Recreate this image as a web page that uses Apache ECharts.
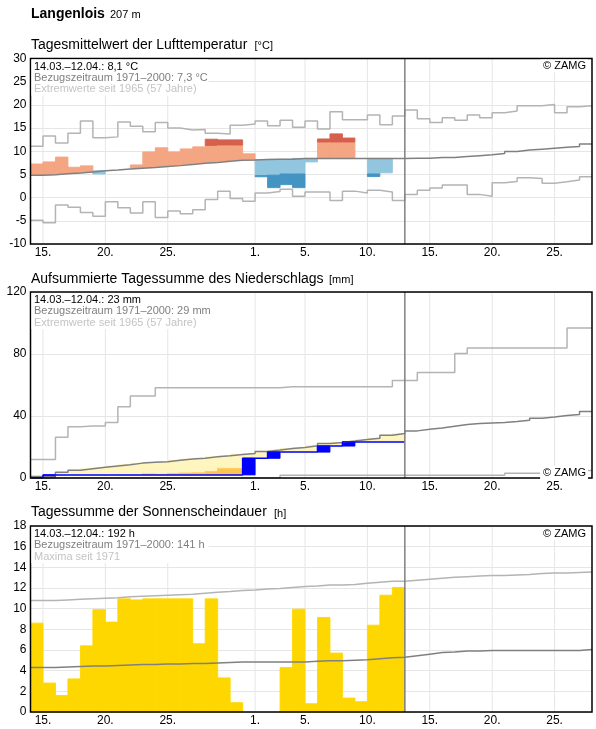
<!DOCTYPE html>
<html>
<head>
<meta charset="utf-8">
<script src="https://cdn.jsdelivr.net/npm/echarts@6/dist/echarts.min.js"></script>
<style>
html,body{margin:0;padding:0;background:#fff;}
#chart{width:596px;height:729px;}
</style>
</head>
<body>
<div id="chart"></div>
<script>
// ---- x axis: day index 0 = 14.03., 45 days shown, data up to 12.04. ----
const tickPos = [1, 6, 11, 18, 22, 27, 32, 37, 42];
const tickLabels = ['15.', '20.', '25.', '1.', '5.', '10.', '15.', '20.', '25.'];
const todayPos = [30];

// ---- Temperature (°C) ----
const tMean = [4.8, 4.95, 5.15, 5.3, 5.55, 5.8, 5.95, 6.15, 6.35, 6.5,
  6.7, 6.9, 7.15, 7.4, 7.6, 7.85, 8.05, 8.1, 8.2, 8.25,
  8.25, 8.45, 8.45, 8.45, 8.45, 8.45, 8.45, 8.45, 8.45, 8.45,
  8.5, 8.5, 8.65, 8.65, 8.85, 9.05, 9.25, 9.5, 9.95, 10.25,
  10.45, 10.65, 10.85, 11.05, 11.55];
const tMax = [11.1, 13.3, 11.8, 13.9, 16.5, 12.9, 13.1, 16.3, 15.4, 14.2,
  16.2, 15.0, 14.6, 14.7, 13.9, 13.7, 15.6, 15.9, 16.5, 15.5,
  16.7, 15.2, 16.5, 14.8, 18.5, 16.8, 16.8, 17.8, 15.7, 17.6,
  18.9, 17.0, 16.2, 17.2, 16.7, 17.8, 17.2, 18.3, 18.7, 19.8,
  19.8, 20.1, 18.3, 19.6, 19.8];
const tMin = [-4.9, -5.4, -1.6, -2.1, -3.2, -4.0, -0.9, -2.2, -3.3, -0.9,
  -4.3, -2.9, -3.5, -2.6, -0.4, 1.4, -0.2, -0.8, 1.0, 1.3,
  1.8, 0.3, 1.2, 1.2, -0.6, 1.4, 1.0, 1.6, 1.2, -0.6,
  0.7, 1.6, 2.1, 2.7, 2.7, 0.7, 0.3, 3.2, 3.5, 4.3,
  4.1, 3.1, 3.4, 3.8, 4.5];
const tDay = [7.25, 7.7, 8.75, 6.55, 6.85, 5.1, 5.95, 6.15, 7.05, 9.85,
  10.75, 9.85, 10.5, 10.95, 12.6, 12.45, 12.45, 9.45, 4.5, 2.15,
  2.8, 2.15, 7.7, 12.65, 13.75, 12.85, 8.45, 4.55, 5.35, 8.45];
const tLimit = [null, null, null, null, null, null, null, null, null, null,
  null, null, null, null, 11.25, 11.35, 11.35, null, 4.75, 4.85,
  5.1, 5.1, null, 12.0, 12.0, 12.0, null, 5.1, null, null];

// ---- Precipitation, cumulative (mm) ----
const pMean = [1.0, 1.3, 3.7, 5.0, 6.0, 6.9, 7.8, 8.6, 9.6, 10.1,
  10.5, 11.4, 12.2, 12.8, 13.7, 14.3, 15.2, 15.8, 17.1, 18.0,
  19.1, 19.7, 20.8, 22.3, 22.9, 23.8, 24.8, 25.7, 27.6, 28.7,
  30.4, 31.5, 32.3, 33.4, 34.5, 35.1, 35.5, 35.8, 36.4, 37.3,
  38.6, 39.4, 40.3, 41.0, 42.9];
const pMax = [12.0, 12.0, 26.3, 33.0, 33.6, 33.6, 35.8, 46.0, 52.9, 52.9,
  58.2, 58.2, 58.2, 58.2, 58.2, 58.2, 58.2, 58.2, 58.2, 58.2,
  58.9, 58.9, 58.9, 58.9, 58.9, 58.9, 58.9, 58.9, 58.9, 62.9,
  62.9, 68.1, 68.1, 68.1, 80.3, 83.9, 83.9, 83.9, 83.9, 83.9,
  83.9, 83.9, 83.9, 96.8, 96.8];
const pMin = [0, 0, 0, 0, 0, 0, 0, 0, 0, 0,
  0, 0, 0, 0, 0, 0, 0, 0, 0, 0,
  1.7, 1.7, 1.7, 1.7, 1.7, 1.7, 1.7, 1.7, 1.7, 1.7,
  1.7, 1.7, 1.7, 1.7, 1.7, 1.7, 1.7, 1.7, 3.0, 3.0,
  3.0, 4.9, 4.9, 4.9, 4.9];
const pObs = [0, 2.0, 2.0, 2.0, 2.0, 2.0, 2.0, 2.0, 2.0, 2.0,
  2.0, 2.0, 2.0, 2.0, 2.0, 2.0, 2.0, 12.7, 12.7, 16.7,
  16.7, 16.7, 16.7, 20.6, 20.6, 23.3, 23.3, 23.3, 23.3, 23.3];
const pLow = [null, null, null, null, null, null, null, 2.4, 2.4, 3.2,
  3.0, 3.4, 3.8, 3.9, 4.7, 6.6, 6.6, null, null, null,
  null, null, null, null, null, null, null, null, null, null];

// ---- Sunshine duration (h) ----
const sDay = [8.6, 2.8, 1.6, 3.2, 6.4, 9.9, 8.7, 10.95, 10.85, 10.95,
  10.95, 10.95, 10.95, 6.6, 10.95, 3.3, 0.9, 0, 0, 0,
  4.3, 9.95, 0.8, 9.15, 5.7, 1.35, 1.0, 8.4, 11.3, 12.05];
const sMean = [4.3, 4.3, 4.35, 4.4, 4.45, 4.45, 4.5, 4.55, 4.6, 4.6,
  4.65, 4.65, 4.7, 4.7, 4.75, 4.8, 4.85, 4.85, 4.85, 4.85,
  4.85, 4.85, 4.9, 4.95, 4.95, 5.0, 5.05, 5.15, 5.25, 5.3,
  5.45, 5.6, 5.75, 5.8, 5.9, 5.9, 5.95, 5.95, 5.95, 5.95,
  5.95, 5.95, 5.95, 5.95, 6.05];
const sMax = [10.8, 10.8, 10.85, 10.9, 10.95, 11.0, 11.05, 11.15, 11.2, 11.25,
  11.3, 11.35, 11.4, 11.5, 11.6, 11.65, 11.75, 11.8, 11.9, 11.95,
  12.05, 12.15, 12.2, 12.3, 12.3, 12.35, 12.45, 12.55, 12.65, 12.65,
  12.75, 12.85, 12.95, 13.05, 13.1, 13.15, 13.2, 13.2, 13.25, 13.3,
  13.4, 13.45, 13.45, 13.5, 13.55];

// ---- texts ----
const stationName = 'Langenlois';
const stationHeight = '207 m';
const panelTitles = ['Tagesmittelwert der Lufttemperatur', 'Aufsummierte Tagessumme des Niederschlags', 'Tagessumme der Sonnenscheindauer'];
const panelUnits = ['[°C]', '[mm]', '[h]'];
const legendLines = [
  ['14.03.–12.04.: 8,1 °C', 'Bezugszeitraum 1971–2000: 7,3 °C', 'Extremwerte seit 1965 (57 Jahre)'],
  ['14.03.–12.04.: 23 mm', 'Bezugszeitraum 1971–2000: 29 mm', 'Extremwerte seit 1965 (57 Jahre)'],
  ['14.03.–12.04.: 192 h', 'Bezugszeitraum 1971–2000: 141 h', 'Maxima seit 1971']
];
const credit = '© ZAMG';

// ---- layout ----
const FONT = '"Liberation Sans", Arial, Helvetica, sans-serif';
const gridLeft = 30.5, gridRight = 4;
const grids = [
  {top: 58.5, height: 185.5, min: -10, max: 30, interval: 5},
  {top: 292, height: 186, min: 0, max: 120, interval: 40},
  {top: 526, height: 186, min: 0, max: 18, interval: 2}
];
const C = {
  warm: '#f4a582', warmStrong: '#d6604d', cold: '#92c5de', coldStrong: '#4393c3',
  extreme: '#b4b4b4', mean: '#808080', today: '#808080', grid: '#e6e6e6',
  rainBar: '#0000ff', deficit: '#fff5bf', deficitStrong: '#fec44f', sun: '#ffd700'
};

function stepData(arr) {
  const d = arr.map((v, i) => [i, v]);
  d.push([arr.length, arr[arr.length - 1]]);
  return d;
}
function stepLine(g, arr, color, width, z) {
  return {type: 'line', xAxisIndex: g, yAxisIndex: g, data: stepData(arr), step: 'end',
    symbol: 'none', silent: true, z: z, lineStyle: {color: color, width: width}};
}
function rect(api, x0, x1, v0, v1, color) {
  const a = api.coord([x0, Math.max(v0, v1)]);
  const b = api.coord([x1, Math.min(v0, v1)]);
  return {type: 'rect', shape: {x: a[0], y: a[1], width: b[0] - a[0], height: b[1] - a[1]},
    style: {fill: color, stroke: color, lineWidth: 0.9}};
}
function vlines(g, positions, color, width, z) {
  return {type: 'custom', xAxisIndex: g, yAxisIndex: g, silent: true, z: z,
    data: positions.map(p => [p, grids[g].min]),
    renderItem: function (params, api) {
      const cs = params.coordSys;
      const x = api.coord([api.value(0), grids[g].min])[0];
      return {type: 'line', shape: {x1: x, y1: cs.y, x2: x, y2: cs.y + cs.height},
        style: {stroke: color, lineWidth: width}};
    }};
}
function frame(g) {
  return {type: 'custom', xAxisIndex: g, yAxisIndex: g, silent: true, z: 10,
    data: [[0, grids[g].min]],
    renderItem: function (params) {
      const cs = params.coordSys;
      return {type: 'rect', shape: {x: cs.x, y: cs.y, width: cs.width, height: cs.height},
        style: {fill: 'none', stroke: '#000', lineWidth: 1.5}};
    }};
}

const series = [];
// temperature panel
series.push(vlines(0, tickPos, C.grid, 1, 1));
series.push({type: 'custom', xAxisIndex: 0, yAxisIndex: 0, silent: true, z: 2,
  data: tDay.map((v, i) => [i, v]),
  renderItem: function (params, api) {
    const i = params.dataIndex, t = tDay[i], m = tMean[i], L = tLimit[i];
    const ch = [];
    if (t > m) {
      if (L !== null && t > L) { ch.push(rect(api, i, i + 1, m, L, C.warm)); ch.push(rect(api, i, i + 1, L, t, C.warmStrong)); }
      else ch.push(rect(api, i, i + 1, m, t, C.warm));
    } else if (t < m) {
      if (L !== null && t < L) { ch.push(rect(api, i, i + 1, L, m, C.cold)); ch.push(rect(api, i, i + 1, t, L, C.coldStrong)); }
      else ch.push(rect(api, i, i + 1, t, m, C.cold));
    }
    return {type: 'group', children: ch};
  }});
series.push(stepLine(0, tMax, C.extreme, 1.5, 3));
series.push(stepLine(0, tMin, C.extreme, 1.5, 3));
series.push(stepLine(0, tMean, C.mean, 1.5, 4));
series.push(vlines(0, todayPos, C.today, 1.5, 6));
series.push(frame(0));

// precipitation panel
series.push(vlines(1, tickPos, C.grid, 1, 1));
series.push({type: 'custom', xAxisIndex: 1, yAxisIndex: 1, silent: true, z: 2,
  data: pObs.map((v, i) => [i, v]),
  renderItem: function (params, api) {
    const i = params.dataIndex, o = pObs[i], m = pMean[i], L = pLow[i];
    const ch = [];
    if (m > o) {
      if (L !== null && L > o) { ch.push(rect(api, i, i + 1, o, L, C.deficitStrong)); ch.push(rect(api, i, i + 1, L, m, C.deficit)); }
      else ch.push(rect(api, i, i + 1, o, m, C.deficit));
    }
    const prev = i === 0 ? 0 : pObs[i - 1];
    if (o > prev) ch.push(rect(api, i, i + 1, prev, o, C.rainBar));
    return {type: 'group', children: ch};
  }});
series.push(stepLine(1, pMax, C.extreme, 1.5, 3));
series.push(stepLine(1, pMin, C.extreme, 1.5, 3));
series.push(stepLine(1, pMean, C.mean, 1.5, 4));
series.push(stepLine(1, pObs, C.rainBar, 1.5, 5));
series.push(vlines(1, todayPos, C.today, 1.5, 6));
series.push(frame(1));

// sunshine panel
series.push(vlines(2, tickPos, C.grid, 1, 1));
series.push({type: 'custom', xAxisIndex: 2, yAxisIndex: 2, silent: true, z: 2,
  data: sDay.map((v, i) => [i, v]),
  renderItem: function (params, api) {
    const i = params.dataIndex, v = sDay[i];
    if (!(v > 0)) return {type: 'group', children: []};
    return rect(api, i, i + 1, 0, v, C.sun);
  }});
series.push(stepLine(2, sMax, C.extreme, 1.5, 3));
series.push(stepLine(2, sMean, C.mean, 1.5, 4));
series.push(vlines(2, todayPos, C.today, 1.5, 6));
series.push(frame(2));

// graphics (texts)
function txt(x, y, text, size, color, weight, align, extra) {
  const st = {text: text, fill: color, font: (weight || 'normal') + ' ' + size + 'px ' + FONT,
    align: align || 'left', verticalAlign: 'middle'};
  if (extra) Object.assign(st, extra);
  return {type: 'text', x: x, y: y, z: 30, silent: true, style: st};
}
const graphic = [];
graphic.push(txt(31, 14.3, stationName, 14, '#000', 'bold'));
graphic.push(txt(110, 15.2, stationHeight, 11, '#000'));
const unitX = [254.5, 329, 274];
const titleY = [44.8, 278.8, 512.6];
const legendColors = ['#000000', '#7f7f7f', '#c4c4c4'];
grids.forEach((g, k) => {
  graphic.push(txt(31, titleY[k], panelTitles[k], 14, '#000'));
  graphic.push(txt(unitX[k], titleY[k] + 1.2, panelUnits[k], 11, '#000'));
  graphic.push({type: 'rect', z: 25, silent: true,
    shape: {x: 31.5, y: g.top + 1, width: 177, height: 36}, style: {fill: '#fff'}});
  const offs = [8, 19, 30.5];
  legendLines[k].forEach((line, j) => graphic.push(txt(34, g.top + offs[j], line, 11, legendColors[j])));
});
const creditBg = {backgroundColor: '#fff', padding: [1, 2, 1, 3]};
graphic.push(txt(588, 66, credit, 11, '#000', 'normal', 'right', creditBg));
graphic.push(txt(588, 472.5, credit, 11, '#000', 'normal', 'right', creditBg));
graphic.push(txt(588, 533.5, credit, 11, '#000', 'normal', 'right', creditBg));

const option = {
  animation: false,
  backgroundColor: '#fff',
  textStyle: {fontFamily: FONT},
  grid: grids.map(g => ({left: gridLeft, right: gridRight, top: g.top, height: g.height,
    containLabel: false, show: false})),
  xAxis: grids.map((g, k) => ({type: 'value', gridIndex: k, min: 0, max: 45, interval: 1,
    axisLine: {show: false}, axisTick: {show: false}, splitLine: {show: false},
    axisLabel: {show: true, margin: 3, fontSize: 12, color: '#000', fontFamily: FONT,
      formatter: function (v) { const idx = tickPos.indexOf(v); return idx >= 0 ? tickLabels[idx] : ''; }}})),
  yAxis: grids.map((g, k) => ({type: 'value', gridIndex: k, min: g.min, max: g.max, interval: g.interval,
    axisLine: {show: false}, axisTick: {show: false},
    splitLine: {show: true, lineStyle: {color: C.grid, width: 1}},
    axisLabel: {margin: 4, fontSize: 12, color: '#000', fontFamily: FONT}})),
  series: series,
  graphic: graphic
};
const chart = echarts.init(document.getElementById('chart'));
chart.setOption(option);
</script>
</body>
</html>
